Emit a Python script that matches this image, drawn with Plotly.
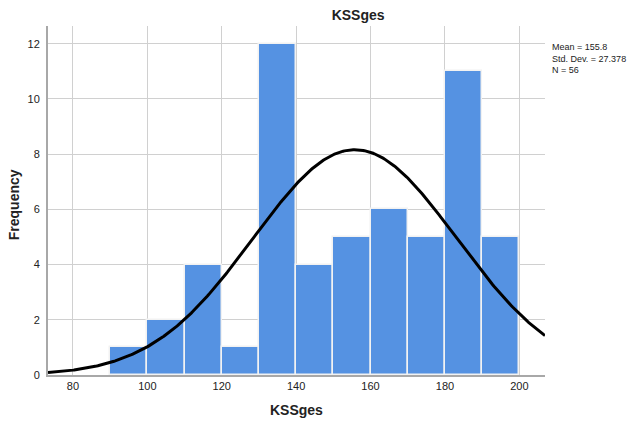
import numpy as np
import plotly.graph_objects as go

bin_starts = [90, 100, 110, 120, 130, 140, 150, 160, 170, 180, 190]
frequencies = [1, 2, 4, 1, 12, 4, 5, 6, 5, 11, 5]
bin_width = 10
mean_val = 155.8
std_val = 27.378
n_val = 56
x_ticks = [80, 100, 120, 140, 160, 180, 200]
y_ticks = [0, 2, 4, 6, 8, 10, 12]

centers = [b + bin_width / 2 for b in bin_starts]
xc = np.linspace(73.3, 206.9, 400)
yc = n_val * bin_width / (std_val * np.sqrt(2 * np.pi)) * np.exp(-0.5 * ((xc - mean_val) / std_val) ** 2)

font = "Liberation Sans, Arial, sans-serif"
fig = go.Figure()
fig.add_trace(go.Bar(x=centers, y=frequencies, width=bin_width,
                     marker=dict(color="#5592E2", line=dict(color="#F2F2F2", width=1.5)),
                     showlegend=False))
fig.add_trace(go.Scatter(x=xc, y=yc, mode="lines", line=dict(color="black", width=3),
                         showlegend=False, cliponaxis=True))
fig.update_layout(
    width=631, height=421,
    margin=dict(l=48, r=86, t=26, b=46),
    paper_bgcolor="white", plot_bgcolor="white",
    font=dict(family=font, size=11, color="#222"),
    title=dict(text="<b>KSSges</b>", xref="paper", x=0.624, xanchor="center",
               y=0.964, yanchor="middle", font=dict(size=14, color="#222")),
    bargap=0,
    xaxis=dict(range=[73.3, 206.9], tickvals=x_ticks, showgrid=True, gridcolor="#D0D0D0",
               gridwidth=1, showline=True, linecolor="#A8A8A8", linewidth=1.5,
               ticks="", zeroline=False, automargin=False),
    yaxis=dict(range=[0, 12.64], tickvals=y_ticks, showgrid=True, gridcolor="#D0D0D0",
               gridwidth=1, showline=True, linecolor="#A8A8A8", linewidth=2,
               ticks="", zeroline=False, ticklabelstandoff=4, automargin=False),
    annotations=[
        dict(text="Mean = 155.8<br>Std. Dev. = 27.378<br>N = 56",
             xref="paper", yref="paper", x=1.01, y=0.96, xanchor="left", yanchor="top",
             showarrow=False, align="left", font=dict(size=9, color="#222")),
        dict(text="<b>KSSges</b>", xref="paper", yref="paper", x=0.5, y=-0.1,
             xanchor="center", yanchor="middle", showarrow=False,
             font=dict(size=14, color="#222")),
        dict(text="<b>Frequency</b>", xref="paper", yref="paper", x=-0.068, y=0.487,
             xanchor="center", yanchor="middle", textangle=-90, showarrow=False,
             font=dict(size=14, color="#222")),
    ],
)
fig.write_html("out.html")
